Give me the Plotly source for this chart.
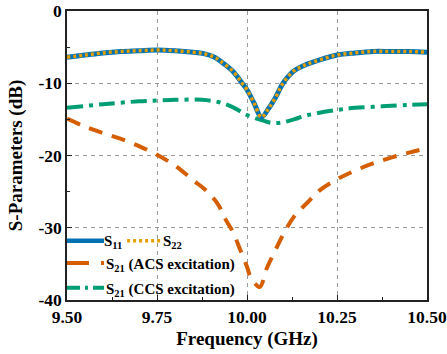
import plotly.graph_objects as go

# ---- data ----
freq_s11 = [9.50, 9.55, 9.60, 9.65, 9.70, 9.75, 9.80, 9.85, 9.88, 9.91, 9.925, 9.96, 9.985,
            10.00, 10.02, 10.04, 10.06, 10.08, 10.10, 10.13, 10.16, 10.20, 10.25, 10.30,
            10.35, 10.40, 10.45, 10.50]
s11 = [-6.4, -6.1, -5.8, -5.6, -5.5, -5.4, -5.5, -5.7, -5.9, -6.4, -6.9, -8.3, -9.9,
       -10.9, -12.8, -14.7, -13.5, -11.9, -10.0, -8.3, -7.5, -6.8, -6.1, -5.8,
       -5.6, -5.6, -5.6, -5.7]
s22 = list(s11)

freq_acs = [9.50, 9.55, 9.60, 9.65, 9.70, 9.75, 9.80, 9.85, 9.89, 9.92, 9.94, 9.96, 9.98,
            10.00, 10.01, 10.035, 10.055, 10.075, 10.10, 10.13, 10.17, 10.20, 10.25,
            10.30, 10.35, 10.40, 10.45, 10.50]
s21_acs = [-14.9, -16.0, -16.9, -17.7, -18.7, -19.9, -21.4, -23.4, -25.0, -26.8, -28.8, -30.5, -32.9,
           -35.4, -36.8, -38.2, -35.6, -33.5, -31.0, -28.5, -26.4, -24.9, -23.3,
           -22.1, -21.1, -20.3, -19.6, -19.0]

freq_ccs = [9.50, 9.60, 9.70, 9.75, 9.80, 9.875, 9.92, 9.96, 10.00, 10.04, 10.07, 10.10,
            10.13, 10.17, 10.25, 10.30, 10.375, 10.45, 10.50]
s21_ccs = [-13.4, -12.9, -12.5, -12.4, -12.3, -12.3, -12.6, -13.3, -14.4, -15.1, -15.5, -15.4,
           -15.0, -14.4, -13.7, -13.4, -13.2, -13.0, -12.9]

x_tickvals = [9.50, 9.75, 10.00, 10.25, 10.50]
x_ticktext = ["9.50", "9.75", "10.00", "10.25", "10.50"]
y_tickvals = [0, -10, -20, -30, -40]
y_ticktext = ["0", "-10", "-20", "-30", "-40"]

legend_labels = ["S<sub>11</sub>", "S<sub>22</sub>",
                 "S<sub>21</sub> (ACS excitation)", "S<sub>21</sub> (CCS excitation)"]

C_BLUE = "#0072B2"
C_GOLD = "#E69F00"
C_ORANGE = "#D55E00"
C_GREEN = "#009E73"
FONT = "Liberation Serif"

fig = go.Figure()
fig.add_trace(go.Scatter(x=freq_acs, y=s21_acs, mode="lines", line_shape="spline",
                         line=dict(color=C_ORANGE, width=4, dash="14px,10px")))
fig.add_trace(go.Scatter(x=freq_ccs, y=s21_ccs, mode="lines", line_shape="spline",
                         line=dict(color=C_GREEN, width=4, dash="16px,6px,4px,6px")))
fig.add_trace(go.Scatter(x=freq_s11, y=s11, mode="lines", line_shape="spline",
                         line=dict(color=C_BLUE, width=5)))
fig.add_trace(go.Scatter(x=freq_s11, y=s22, mode="lines", line_shape="spline",
                         line=dict(color=C_GOLD, width=3.5, dash="3px,3px")))

# ---- manual legend (paper coords of plot area) ----
def legline(x0, x1, y, color, width, dash):
    fig.add_shape(type="line", xref="paper", yref="paper", x0=x0, x1=x1, y0=y, y1=y,
                  line=dict(color=color, width=width, dash=dash))

def legtext(x, y, text):
    fig.add_annotation(xref="paper", yref="paper", x=x, y=y, text="<b>" + text + "</b>",
                       showarrow=False, xanchor="left", yanchor="middle",
                       xshift=-2, font=dict(family=FONT, size=15, color="black"))

r1, r2, r3 = 0.205, 0.128, 0.042
legline(0.0, 0.103, r1, C_BLUE, 4.5, "solid")
legtext(0.104, r1 - 0.006, legend_labels[0])
legline(0.167, 0.264, r1, C_GOLD, 3.5, "3px,3px")
legtext(0.268, r1 - 0.006, legend_labels[1])
legline(0.0, 0.103, r2, C_ORANGE, 4, "22px,12px")
legtext(0.107, r2 - 0.006, legend_labels[2])
legline(0.0, 0.103, r3, C_GREEN, 4, "13px,5px,3px,5px")
legtext(0.107, r3 - 0.006, legend_labels[3])

axis_common = dict(showline=True, linecolor="#222", linewidth=1.5, mirror=True,
                   ticks="inside", ticklen=5, tickwidth=1.2, tickcolor="#222",
                   showgrid=True, gridcolor="#9a9a9a", griddash="4px,4px", gridwidth=1,
                   zeroline=False, ticklabeloverflow="allow",
                   tickfont=dict(family=FONT, size=17.5, color="black", weight="bold"))

fig.update_xaxes(range=[9.5, 10.5], tickvals=x_tickvals, ticktext=x_ticktext,
                 minor=dict(ticks="inside", ticklen=3, tickcolor="#222", dtick=0.125, tick0=9.5,
                            showgrid=False),
                 title=dict(text="<b>Frequency (GHz)</b>", standoff=6,
                            font=dict(family=FONT, size=19, color="black")),
                 **axis_common)
fig.update_yaxes(range=[-40, 0], tickvals=y_tickvals, ticktext=y_ticktext,
                 minor=dict(ticks="inside", ticklen=3, tickcolor="#222", dtick=5, tick0=0,
                            showgrid=False),
                 title=dict(text="<b>S-Parameters (dB)</b>", standoff=11,
                            font=dict(family=FONT, size=19, color="black")),
                 **axis_common)

fig.update_layout(width=447, height=354, showlegend=False,
                  margin=dict(l=67, r=20, t=11, b=54, autoexpand=False),
                  plot_bgcolor="white", paper_bgcolor="white")

fig.write_html("out.html", config={"displayModeBar": False},
               post_script="document.body.style.margin='0';document.body.style.overflow='hidden';")
